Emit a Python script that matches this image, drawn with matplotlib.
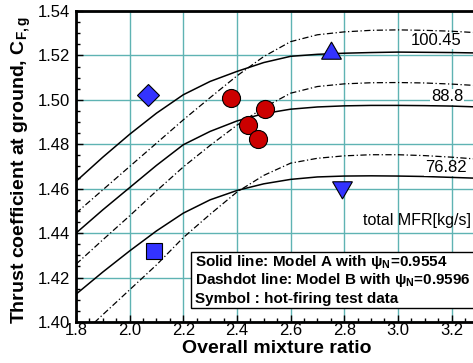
import matplotlib
matplotlib.use("Agg")
import matplotlib.pyplot as plt
from matplotlib.patches import Rectangle
from matplotlib.ticker import MultipleLocator

# mixture ratio grid of the model curves
mr = [1.8, 1.9, 2.0, 2.1, 2.2, 2.3, 2.4, 2.5, 2.6, 2.7, 2.8, 2.9, 3.0, 3.1, 3.2, 3.3]

# Model A (solid), total MFR 100.45 / 88.8 / 76.82
model_a_100 = [1.4633, 1.4742, 1.4845, 1.4940, 1.5023, 1.5083, 1.5128, 1.5168, 1.5196, 1.5205, 1.5210, 1.5213, 1.5215, 1.5214, 1.5213, 1.5211]
model_a_88 = [1.4400, 1.4505, 1.4605, 1.4705, 1.4798, 1.4858, 1.4905, 1.4938, 1.4958, 1.4968, 1.4973, 1.4975, 1.4975, 1.4974, 1.4972, 1.4968]
model_a_76 = [1.4125, 1.4225, 1.4320, 1.4410, 1.4490, 1.4550, 1.4592, 1.4622, 1.4642, 1.4653, 1.4657, 1.4658, 1.4657, 1.4655, 1.4651, 1.4647]

# Model B (dashdot)
model_b_100 = [1.4490, 1.4595, 1.4700, 1.4805, 1.4910, 1.5010, 1.5108, 1.5195, 1.5262, 1.5293, 1.5306, 1.5313, 1.5315, 1.5313, 1.5309, 1.5302]
model_b_88 = [1.4260, 1.4370, 1.4478, 1.4590, 1.4698, 1.4795, 1.4886, 1.4965, 1.5030, 1.5060, 1.5072, 1.5077, 1.5078, 1.5076, 1.5071, 1.5064]
model_b_76 = [1.3920, 1.4033, 1.4145, 1.4257, 1.4380, 1.4485, 1.4585, 1.4660, 1.4715, 1.4737, 1.4748, 1.4753, 1.4753, 1.4749, 1.4742, 1.4733]

mfr_labels = ["100.45", "88.8", "76.82"]
mfr_label_x = [3.144, 3.183, 3.178]
mfr_label_y = [1.5266, 1.5013, 1.4694]

# hot-firing test data
circle_x = [2.379, 2.504, 2.442, 2.479]
circle_y = [1.5008, 1.4960, 1.4888, 1.4823]
diamond_x = [2.067]
diamond_y = [1.5023]
square_x = [2.089]
square_y = [1.4319]
tri_up_x = [2.749]
tri_up_y = [1.5209]
tri_down_x = [2.790]
tri_down_y = [1.4606]

legend_lines = [
    r"Solid line: Model A with ψ$_\mathbf{N}$=0.9554",
    r"Dashdot line: Model B with ψ$_\mathbf{N}$=0.9596",
    "Symbol : hot-firing test data",
]

plt.rcParams["font.family"] = ["Liberation Sans", "DejaVu Sans"]
plt.rcParams["mathtext.fontset"] = "custom"
plt.rcParams["mathtext.rm"] = "Liberation Sans"
plt.rcParams["mathtext.it"] = "Liberation Sans:italic"
plt.rcParams["mathtext.bf"] = "Liberation Sans:bold"

fig = plt.figure(figsize=(4.73, 3.63), dpi=100)
ax = fig.add_axes([76 / 473, 41 / 363, 397 / 473, 311 / 363])

grid_color = "#5fb3b3"
ax.grid(True, which="major", color=grid_color, linewidth=1.0, zorder=0)
ax.set_axisbelow(True)

dd = (5, 2, 1, 2)
for ys in [model_a_100, model_a_88, model_a_76]:
    ax.plot(mr, ys, color="black", linewidth=1.1, zorder=2)
for ys in [model_b_100, model_b_88, model_b_76]:
    ax.plot(mr, ys, color="black", linewidth=0.9, dashes=dd, zorder=2)

for lab, lx, ly in zip(mfr_labels, mfr_label_x, mfr_label_y):
    ax.text(lx, ly, lab, fontsize=12, ha="center", va="center",
            bbox=dict(facecolor="white", edgecolor="none", pad=0.5), zorder=3)
ax.text(3.272, 1.4459, "total MFR[kg/s]", fontsize=11.5, ha="right", va="center", zorder=3)

blue = "#3333ff"
red = "#cc0000"
ax.plot(circle_x, circle_y, "o", ms=13, mfc=red, mec="black", mew=0.8, zorder=4)
ax.plot(diamond_x, diamond_y, "D", ms=11, mfc=blue, mec="black", mew=0.8, zorder=4)
ax.plot(square_x, square_y, "s", ms=12, mfc=blue, mec="black", mew=0.8, zorder=4)
ax.plot(tri_up_x, tri_up_y, marker=(3, 0, 0), ms=16.5, mfc=blue, mec="black", mew=0.8, ls="none", zorder=4)
ax.plot(tri_down_x, tri_down_y, marker=(3, 0, 180), ms=16.5, mfc=blue, mec="black", mew=0.8, ls="none", zorder=4)

# legend box with the model description
ax.add_patch(Rectangle((0.2897, 0.045), 0.72, 0.18, transform=ax.transAxes,
                       facecolor="white", edgecolor="black", linewidth=1.0, zorder=5, clip_on=False))
for i, line in enumerate(legend_lines):
    ax.text(0.2997, [0.1939, 0.135, 0.073][i], line, transform=ax.transAxes,
            fontsize=11, fontweight="bold", ha="left", va="center", zorder=6)

ax.set_xlim(1.8, 3.28)
ax.set_ylim(1.40, 1.54)
ax.xaxis.set_minor_locator(MultipleLocator(0.05))
ax.yaxis.set_minor_locator(MultipleLocator(0.005))
ax.set_xticks([1.8, 2.0, 2.2, 2.4, 2.6, 2.8, 3.0, 3.2])
ax.set_xticklabels(["1.8", "2.0", "2.2", "2.4", "2.6", "2.8", "3.0", "3.2"])
ax.set_yticks([1.40, 1.42, 1.44, 1.46, 1.48, 1.50, 1.52, 1.54])
ax.set_yticklabels(["1.40", "1.42", "1.44", "1.46", "1.48", "1.50", "1.52", "1.54"])

ax.tick_params(which="both", direction="in", labelsize=12, width=1.0)
ax.tick_params(which="major", length=5)
ax.tick_params(which="minor", length=3)
ax.tick_params(axis="x", pad=1)
ax.tick_params(axis="y", pad=4)

for side in ["left", "bottom", "top"]:
    ax.spines[side].set_linewidth(2.0)
ax.spines["right"].set_visible(False)

ax.set_xlabel("Overall mixture ratio", fontsize=14, fontweight="bold")
ax.set_ylabel(r"Thrust coefficient at ground, C$_{\mathbf{F,g}}$", fontsize=14, fontweight="bold")
ax.xaxis.set_label_coords(0.505, -0.058)
ax.yaxis.set_label_coords(-0.108, 0.49)

fig.savefig("out.png", dpi=100)
